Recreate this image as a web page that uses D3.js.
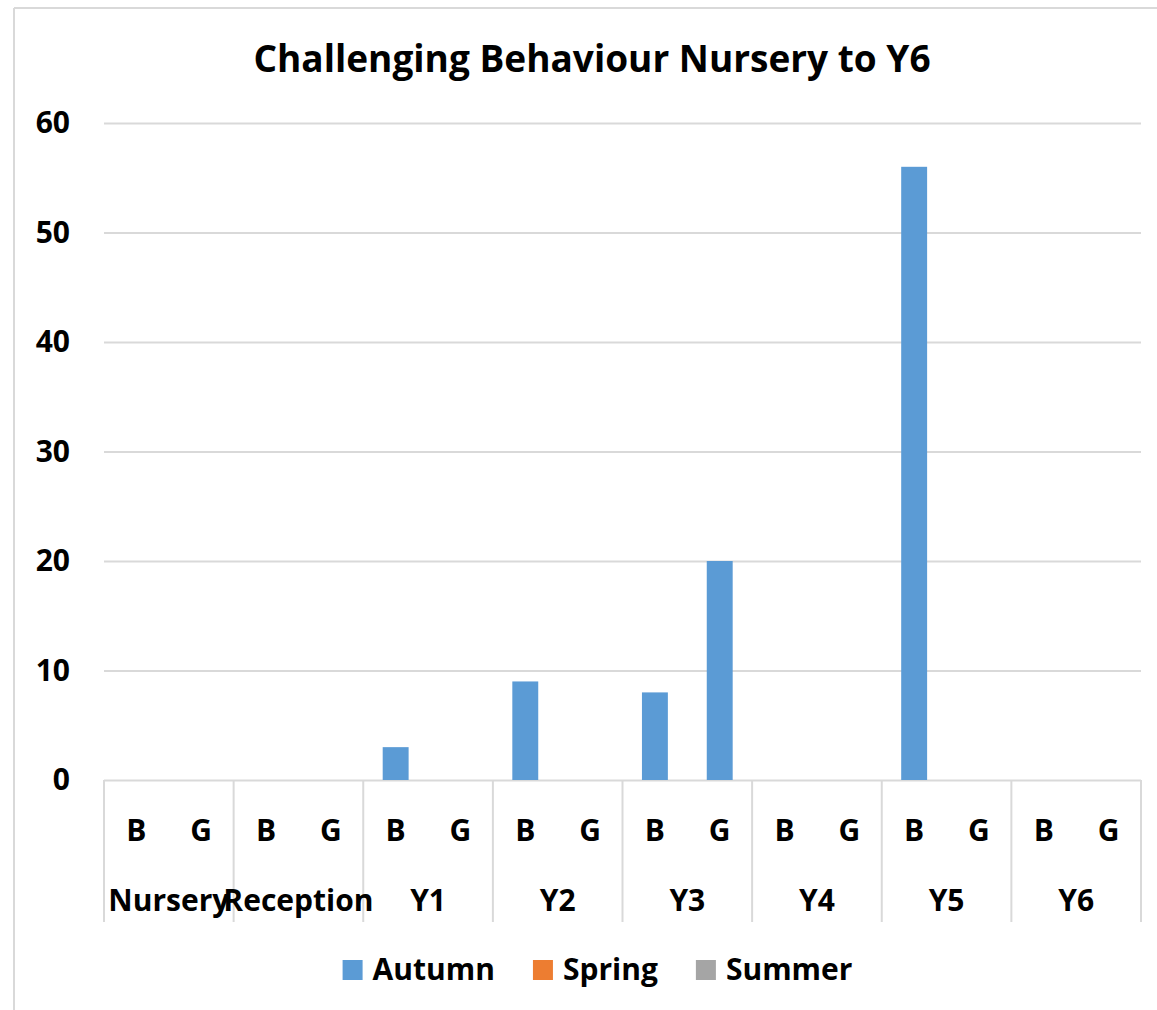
<!DOCTYPE html>
<html>
<head>
<meta charset="utf-8">
<script src="https://cdn.jsdelivr.net/npm/d3@7"></script>
<style>
  html, body { margin: 0; padding: 0; background: #fff; }
  svg text { font-family: "Open Sans", "Noto Sans", sans-serif; font-weight: 700; fill: #000; }
</style>
</head>
<body>
<svg id="chart" width="1157" height="1010"></svg>
<script>
const years = ['Nursery', 'Reception', 'Y1', 'Y2', 'Y3', 'Y4', 'Y5', 'Y6']
const genders = ['B', 'G']
const seasons = ['Autumn', 'Spring', 'Summer']
const seasonColors = ['#5b9bd5', '#ed7d31', '#a5a5a5']

// one value per year/gender pair, in order Nursery B, Nursery G, Reception B ...
const autumn = [0, 0, 0, 0, 3, 0, 9, 0, 8, 20, 0, 0, 56, 0, 0, 0]
const spring = [0, 0, 0, 0, 0, 0, 0, 0, 0, 0, 0, 0, 0, 0, 0, 0]
const summer = [0, 0, 0, 0, 0, 0, 0, 0, 0, 0, 0, 0, 0, 0, 0, 0]
const yTicks = [0, 10, 20, 30, 40, 50, 60]

const title = 'Challenging Behaviour Nursery to Y6'

const W = 1157
const H = 1010
const plot = { left: 104, right: 1141, top: 123, bottom: 780 }
const gridColor = '#d9d9d9'
const fontSize = 30

const svg = d3.select('#chart')

// outer frame (only top and left edges visible)
svg.append('line').attr('x1', 14).attr('x2', W).attr('y1', 8).attr('y2', 8)
  .attr('stroke', gridColor).attr('stroke-width', 2)
svg.append('line').attr('x1', 14).attr('x2', 14).attr('y1', 8).attr('y2', H)
  .attr('stroke', gridColor).attr('stroke-width', 2)

svg.append('text')
  .attr('x', 592).attr('y', 72)
  .attr('text-anchor', 'middle')
  .style('font-size', '37px')
  .text(title)

const leaves = years.flatMap(y => genders.map(g => `${y}|${g}`))

const x = d3.scaleBand(leaves, [plot.left, plot.right]).padding(0)
const xGroup = d3.scaleBand(years, [plot.left, plot.right]).padding(0)
const y = d3.scaleLinear([0, 60], [plot.bottom, plot.top])

// y axis with gridlines
const yAxis = d3.axisLeft(y)
  .tickValues(yTicks)
  .tickSize(-(plot.right - plot.left))
  .tickPadding(34)
const yg = svg.append('g')
  .attr('transform', `translate(${plot.left},0)`)
  .call(yAxis)
yg.select('.domain').remove()
yg.selectAll('.tick line').attr('stroke', gridColor).attr('stroke-width', 2)
yg.selectAll('.tick text')
  .attr('fill', '#000')
  .style('font-family', '"Open Sans", "Noto Sans", sans-serif')
  .style('font-weight', 700)
  .style('font-size', `${fontSize}px`)

// bars
const seriesData = [autumn, spring, summer]
const barW = x.bandwidth() * 0.4
seasons.forEach((s, si) => {
  svg.append('g')
    .selectAll('rect')
    .data(seriesData[si].map((v, i) => ({ key: leaves[i], value: v })))
    .join('rect')
    .attr('x', d => x(d.key) + (x.bandwidth() - barW) / 2)
    .attr('width', barW)
    .attr('y', d => y(d.value))
    .attr('height', d => y(0) - y(d.value))
    .attr('fill', seasonColors[si])
})

// category axis, two levels
const labelBottom = 922
const cat = svg.append('g')
cat.selectAll('.sep')
  .data([...years.map(yr => xGroup(yr)), plot.right])
  .join('line')
  .attr('x1', d => d).attr('x2', d => d)
  .attr('y1', plot.bottom).attr('y2', labelBottom)
  .attr('stroke', gridColor).attr('stroke-width', 2)

cat.selectAll('.leaf')
  .data(leaves)
  .join('text')
  .attr('x', d => x(d) + x.bandwidth() / 2)
  .attr('y', 841)
  .attr('text-anchor', 'middle')
  .style('font-size', `${fontSize}px`)
  .text(d => d.split('|')[1])

cat.selectAll('.grp')
  .data(years)
  .join('text')
  .attr('x', d => xGroup(d) + xGroup.bandwidth() / 2)
  .attr('y', 911)
  .attr('text-anchor', 'middle')
  .style('font-size', `${fontSize}px`)
  .text(d => d)

// legend
const legend = svg.append('g')
const items = legend.selectAll('g')
  .data(seasons)
  .join('g')
items.append('rect')
  .attr('width', 20).attr('height', 20)
  .attr('y', 960)
  .attr('fill', (d, i) => seasonColors[i])
items.append('text')
  .attr('x', 30).attr('y', 980)
  .style('font-size', `${fontSize}px`)
  .text(d => d)

let cursor = 0
const offsets = []
items.each(function () {
  offsets.push(cursor)
  cursor += 30 + this.querySelector('text').getComputedTextLength() + 38
})
const totalW = cursor - 38
const startX = (338 + 857) / 2 - totalW / 2
items.attr('transform', (d, i) => `translate(${startX + offsets[i]},0)`)
</script>
</body>
</html>
